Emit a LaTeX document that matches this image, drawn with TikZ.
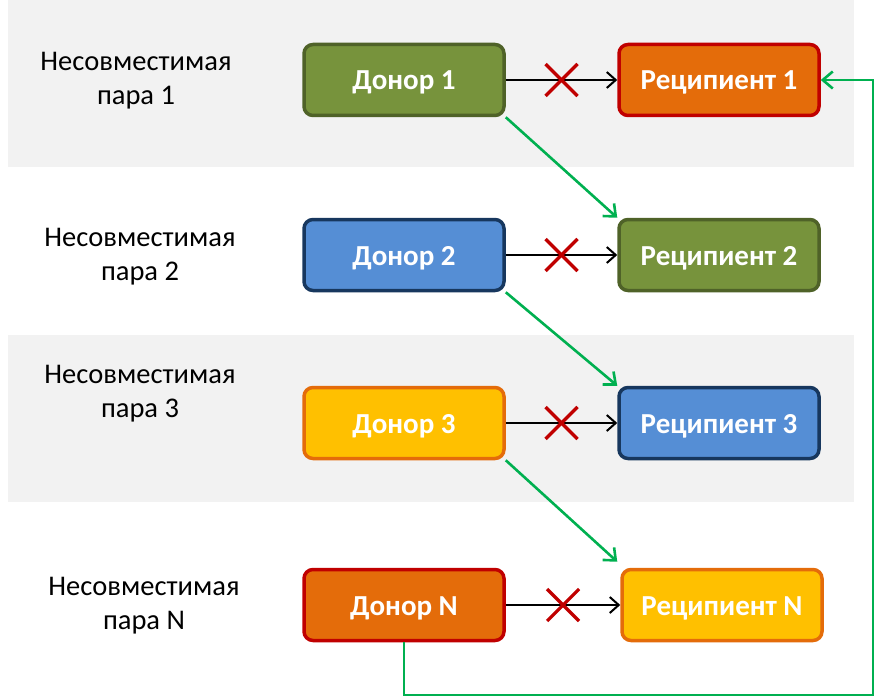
\documentclass[tikz,border=0pt]{standalone}
\usepackage{fontspec}
\setmainfont{Carlito}
\usetikzlibrary{arrows.meta}
\definecolor{bandgray}{HTML}{F2F2F2}
\definecolor{gfill}{HTML}{77933C}\definecolor{gdraw}{HTML}{4F6228}
\definecolor{ofill}{HTML}{E46C0A}\definecolor{odraw}{HTML}{C00000}
\definecolor{bfill}{HTML}{558ED5}\definecolor{bdraw}{HTML}{17375E}
\definecolor{yfill}{HTML}{FFC000}\definecolor{ydraw}{HTML}{E46C0A}
\definecolor{arrgreen}{HTML}{00B050}
\definecolor{xred}{HTML}{C00000}
\tikzset{
  box/.style={rounded corners=9pt, line width=3.5pt, minimum width=200pt, minimum height=71pt,
    inner sep=0pt, text height=20pt, text depth=0pt, text=white, font=\fontsize{29}{34}\selectfont\bfseries},
  gbox/.style={box, fill=gfill, draw=gdraw},
  obox/.style={box, fill=ofill, draw=odraw},
  bbox/.style={box, fill=bfill, draw=bdraw},
  ybox/.style={box, fill=yfill, draw=ydraw},
  lbl/.style={align=center, font=\fontsize{28.5}{34}\selectfont, text=black},
  blk/.style={line width=2pt, -{Straight Barb[length=9pt,width=16pt,line width=2pt]}},
  grn/.style={line width=2.6pt, draw=arrgreen, -{Straight Barb[length=10pt,width=17pt,line width=2.6pt]}},
  xmark/.style={draw=xred, line width=3.2pt}
}
\begin{document}
\begin{tikzpicture}[x=1pt,y=-1pt]
\useasboundingbox (0,0) rectangle (875,698);
\fill[bandgray] (8,0) rectangle (854,167);
\fill[bandgray] (8,335) rectangle (854,502);

\node[lbl] (L1) at (136,81) {Несовместимая\\пара 1};
\node[lbl] (L2) at (140,257) {Несовместимая\\пара 2};
\node[lbl] (L3) at (140,394) {Несовместимая\\пара 3};
\node[lbl] (LN) at (144,606) {Несовместимая\\пара N};

\node[gbox] (D1) at (404,80) {Донор 1};
\node[obox] (R1) at (719,80) {Реципиент 1};
\node[bbox] (D2) at (404,255) {Донор 2};
\node[gbox] (R2) at (719,255) {Реципиент 2};
\node[ybox] (D3) at (404,423) {Донор 3};
\node[bbox] (R3) at (719,423) {Реципиент 3};
\node[obox] (DN) at (404,605) {Донор N};
\node[ybox] (RN) at (722,605) {Реципиент N};

\foreach \d/\r in {D1/R1,D2/R2,D3/R3,DN/RN}{
  \draw[blk] (\d.east) -- (\r.west) coordinate[midway] (m);
  \draw[xmark] ([shift={(-16,-16)}]m) -- ([shift={(16,16)}]m);
  \draw[xmark] ([shift={(-16,16)}]m) -- ([shift={(16,-16)}]m);
}
\draw[grn] (D1.south east) -- (R2.north west);
\draw[grn] (D2.south east) -- (R3.north west);
\draw[grn] (D3.south east) -- ([shift={(-3,-6)}]RN.north west);
\coordinate (c1) at (873,695);
\draw[grn] (DN.south) |- (c1) |- (R1.east);
\end{tikzpicture}
\end{document}
